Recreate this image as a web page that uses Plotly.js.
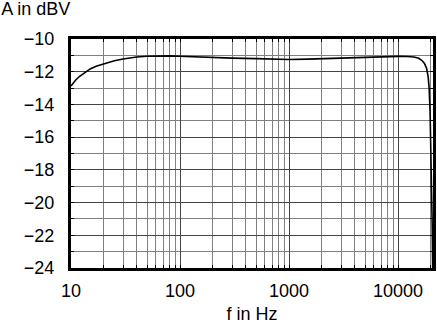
<!DOCTYPE html>
<html>
<head>
<meta charset="utf-8">
<script src="https://cdn.plot.ly/plotly-3.0.1.min.js"></script>
<style>html,body{margin:0;padding:0;background:#fff}#chart{width:437px;height:324px}</style>
</head>
<body>
<div id="chart"></div>
<script>
// Frequency in Hz
const freqHz = [10, 10.5, 11, 12, 13, 14, 15, 17, 20, 25, 30, 35, 40, 50, 60, 80, 100, 150, 200, 300, 500, 700, 1000, 1500, 2000, 3000, 5000, 7000, 10000, 12000, 14000, 15500, 16500, 17500, 18300, 18900, 19300, 19700, 20000, 20300, 20600, 20800];
// Level in dBV
const levelDbv = [-12.87, -12.68, -12.52, -12.28, -12.1, -11.95, -11.83, -11.67, -11.52, -11.33, -11.22, -11.15, -11.1, -11.05, -11.03, -11.03, -11.05, -11.1, -11.13, -11.17, -11.2, -11.24, -11.25, -11.23, -11.2, -11.17, -11.12, -11.08, -11.06, -11.07, -11.1, -11.18, -11.3, -11.5, -11.8, -12.3, -13.0, -14.5, -16.5, -19.0, -21.5, -24.0];

const xTickVals = [10, 100, 1000, 10000];
const xTickText = ['10', '100', '1000', '10000'];
const yTickVals = [-24, -22, -20, -18, -16, -14, -12, -10];

const font = {family: 'Liberation Sans, Arial, sans-serif', size: 18, color: '#000'};

Plotly.newPlot('chart', [{
  x: freqHz, y: levelDbv, type: 'scatter', mode: 'lines',
  line: {color: '#000', width: 1.6},
  hoverinfo: 'skip'
}], {
  width: 437, height: 324,
  margin: {l: 71, r: 4, t: 39, b: 56},
  paper_bgcolor: '#fff', plot_bgcolor: '#fff',
  font: font,
  showlegend: false,
  title: {text: 'A in dBV', xref: 'container', yref: 'container', x: 0.003, xanchor: 'left', y: 0.992, yanchor: 'top', font: font, pad: {t: 0, l: 0}},
  xaxis: {
    type: 'log', range: [1, 4.321],
    tickvals: xTickVals, ticktext: xTickText,
    showgrid: true, gridcolor: '#444', gridwidth: 1,
    ticks: 'inside', ticklen: 3, tickcolor: '#000',
    minor: {dtick: 'D1', showgrid: true, gridcolor: '#808080', gridwidth: 1, ticks: 'inside', ticklen: 3, tickcolor: '#000'},
    showline: true, linecolor: '#000', linewidth: 3, mirror: 'ticks',
    zeroline: false,
    tickfont: font,
    ticklabelstandoff: 4,
    title: {text: 'f in Hz', font: font, standoff: 10}
  },
  yaxis: {
    range: [-24, -10],
    tickvals: yTickVals,
    showgrid: true, gridcolor: '#444', gridwidth: 1,
    ticks: 'inside', ticklen: 3, tickcolor: '#000',
    minor: {dtick: 1, showgrid: true, gridcolor: '#808080', gridwidth: 1, ticks: 'inside', ticklen: 3, tickcolor: '#000'},
    showline: true, linecolor: '#000', linewidth: 3, mirror: 'ticks',
    zeroline: false,
    tickfont: font,
    ticklabelstandoff: 10
  }
}, {staticPlot: true, displayModeBar: false});
</script>
</body>
</html>
